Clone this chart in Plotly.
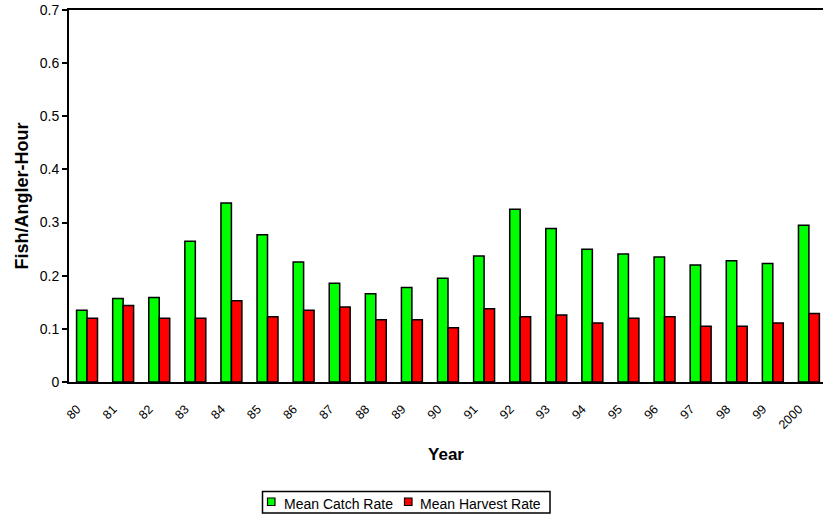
import plotly.graph_objects as go

years = ["80", "81", "82", "83", "84", "85", "86", "87", "88", "89", "90",
         "91", "92", "93", "94", "95", "96", "97", "98", "99", "2000"]
catch_rate = [0.135, 0.157, 0.159, 0.265, 0.337, 0.277, 0.226, 0.186, 0.166, 0.178, 0.195,
              0.237, 0.325, 0.289, 0.250, 0.241, 0.235, 0.220, 0.228, 0.223, 0.295]
harvest_rate = [0.120, 0.144, 0.120, 0.120, 0.153, 0.123, 0.135, 0.141, 0.117, 0.117, 0.102,
                0.138, 0.123, 0.126, 0.111, 0.120, 0.123, 0.105, 0.105, 0.111, 0.129]
y_ticks = [0, 0.1, 0.2, 0.3, 0.4, 0.5, 0.6, 0.7]
y_tick_text = ["0", "0.1", "0.2", "0.3", "0.4", "0.5", "0.6", "0.7"]
series_names = ["Mean Catch Rate", "Mean Harvest Rate"]
series_colors = ["#00ff00", "#ff0000"]

font_family = "Liberation Sans, Arial, sans-serif"

W, H = 823, 518
M_L, M_R, M_T, M_B = 69, 0, 10, 136
PLOT_W = W - M_L - M_R
PLOT_H = H - M_T - M_B


def px_x(px):
    """Horizontal page pixel -> paper coordinate."""
    return (px - M_L) / PLOT_W


def px_y(py):
    """Vertical page pixel (from top) -> paper coordinate."""
    return (H - M_B - py) / PLOT_H


fig = go.Figure()
for name, color, values in zip(series_names, series_colors, [catch_rate, harvest_rate]):
    fig.add_trace(go.Bar(
        x=list(range(len(years))), y=values, name=name,
        marker=dict(color=color, line=dict(color="black", width=1.5)),
    ))

# Boxed legend along the bottom, built from shapes and text
shapes = [dict(type="rect", xref="paper", yref="paper",
               x0=px_x(262.5), x1=px_x(550), y0=px_y(513), y1=px_y(491.5),
               line=dict(color="black", width=1.5), fillcolor="white", layer="above")]
annotations = []
for sym_left, text_left, name, color in zip([267.5, 404.5], [282, 417.5], series_names, series_colors):
    shapes.append(dict(type="rect", xref="paper", yref="paper",
                       x0=px_x(sym_left), x1=px_x(sym_left + 7.5),
                       y0=px_y(505.5), y1=px_y(498),
                       line=dict(color="black", width=1.2), fillcolor=color, layer="above"))
    annotations.append(dict(xref="paper", yref="paper", x=px_x(text_left), y=px_y(503.5),
                            xanchor="left", yanchor="middle", showarrow=False,
                            text=name, font=dict(size=14, family=font_family, color="black")))

fig.update_layout(
    width=W, height=H,
    margin=dict(l=M_L, r=M_R, t=M_T, b=M_B),
    paper_bgcolor="white", plot_bgcolor="white",
    barmode="group", bargap=0.42, bargroupgap=0,
    font=dict(family=font_family, color="black", size=14),
    showlegend=False,
    shapes=shapes, annotations=annotations,
    xaxis=dict(
        range=[-0.5, 20.39],
        tickmode="array", tickvals=list(range(len(years))), ticktext=years,
        tickangle=-45, tickfont=dict(size=12.5, family=font_family),
        ticklabelstandoff=13, ticklabelshift=-10,
        showline=True, linecolor="black", linewidth=2, mirror=True,
        ticks="", showgrid=False, zeroline=False,
        title=dict(text="<b>Year</b>", font=dict(size=17, family=font_family), standoff=17),
    ),
    yaxis=dict(
        range=[0, 0.7],
        tickmode="array", tickvals=y_ticks, ticktext=y_tick_text,
        tickfont=dict(size=14, family=font_family),
        showline=True, linecolor="black", linewidth=2,
        ticks="outside", ticklen=5, tickwidth=1.5, tickcolor="black",
        showgrid=False, zeroline=False,
        title=dict(text="<b>Fish/Angler-Hour</b>", font=dict(size=18, family=font_family), standoff=6),
    ),
)

fig.write_html("out.html")
